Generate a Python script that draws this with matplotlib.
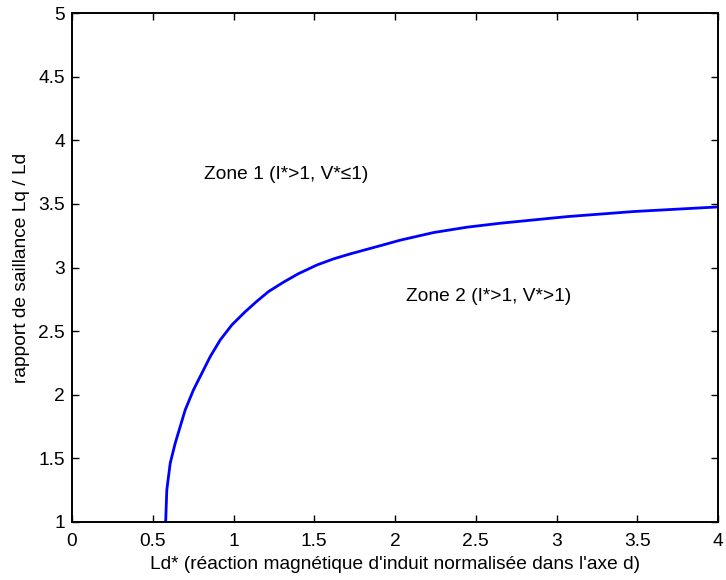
import matplotlib
matplotlib.use("Agg")
import matplotlib.pyplot as plt

plt.rcParams['font.family'] = ['Liberation Sans', 'DejaVu Sans']

# curve (Ld*, Lq/Ld)
ld_star = [0.580, 0.587, 0.608, 0.639, 0.701, 0.752, 0.804, 0.856, 0.918,
           0.990, 1.073, 1.145, 1.217, 1.310, 1.400, 1.517, 1.620, 1.723,
           1.951, 2.033, 2.240, 2.447, 2.653, 3.067, 3.480, 4.000]
saliency = [1.000, 1.252, 1.461, 1.619, 1.881, 2.038, 2.169, 2.300, 2.431,
            2.549, 2.653, 2.735, 2.811, 2.885, 2.950, 3.020, 3.068, 3.107,
            3.186, 3.215, 3.275, 3.317, 3.348, 3.400, 3.440, 3.476]

xticks = [0, 0.5, 1, 1.5, 2, 2.5, 3, 3.5, 4]
yticks = [1, 1.5, 2, 2.5, 3, 3.5, 4, 4.5, 5]

fig = plt.figure(figsize=(7.26, 5.8), dpi=100)
ax = fig.add_axes([72 / 726, 58 / 580, 646 / 726, 509 / 580])

ax.plot(ld_star, saliency, color='#0000ff', lw=2.0)

ax.text(0.82, 3.73, "Zone 1 (I*>1, V*≤1)", fontsize=13.8, va='center')
ax.text(2.07, 2.77, "Zone 2 (I*>1, V*>1)", fontsize=13.8, va='center')

ax.set_xlim(0, 4)
ax.set_ylim(1, 5)
ax.set_xticks(xticks)
ax.set_yticks(yticks)
ax.set_xticklabels([f"{t:g}" for t in xticks])
ax.set_yticklabels([f"{t:g}" for t in yticks])
ax.tick_params(direction='in', top=True, right=True, length=5, width=1,
               labelsize=13.8, pad=5)
ax.tick_params(axis='x', pad=8)
for s in ax.spines.values():
    s.set_linewidth(1.4)

ax.set_xlabel("Ld* (réaction magnétique d'induit normalisée dans l'axe d)",
              fontsize=13.8, labelpad=4)
ax.set_ylabel("rapport de saillance Lq / Ld", fontsize=13.8, labelpad=6)

fig.savefig("out.png", dpi=100)
